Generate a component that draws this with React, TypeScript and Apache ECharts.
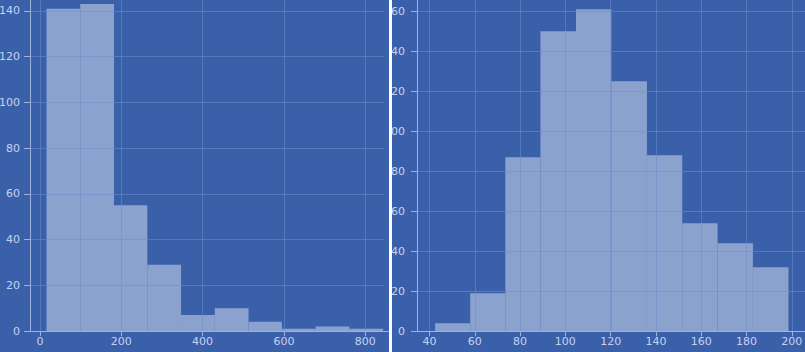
import React, { useEffect, useRef } from "react";
import * as echarts from "echarts";

// Left histogram: bin edges and counts
const leftEdges = [16, 99, 182, 264, 347, 430, 513, 595, 678, 761, 844];
const leftCounts = [141, 143, 55, 29, 7, 10, 4, 1, 2, 1];

// Right histogram: bin edges and counts
const rightEdges = [42.5, 58, 73.5, 89, 104.7, 120.3, 136, 151.6, 167.2, 182.8, 198.5];
const rightCounts = [4, 19, 87, 150, 161, 125, 88, 54, 44, 32];

const BG = "#3a60aa";
const BAR = "#8ca2ce";
const GRIDLINE = "rgba(108,140,206,0.55)";
const AXIS = "#9db3de";
const LABEL = "#c6d2ee";

function toRows(edges: number[], counts: number[]) {
  return counts.map((c, i) => [edges[i], edges[i + 1], c]);
}

const renderItem = (params: any, api: any) => {
  const x0 = api.value(0);
  const x1 = api.value(1);
  const h = api.value(2);
  const p0 = api.coord([x0, h]);
  const p1 = api.coord([x1, 0]);
  return {
    type: "rect",
    shape: { x: p0[0], y: p0[1], width: p1[0] - p0[0], height: p1[1] - p0[1] },
    style: { fill: BAR },
  };
};

function label(margin: number) {
  return {
    color: LABEL,
    fontFamily: "DejaVu Sans",
    fontSize: 11,
    margin,
    showMinLabel: false,
    showMaxLabel: false,
  };
}

function valueAxis(extra: any) {
  return {
    type: "value",
    z: 10,
    axisLine: { show: true, onZero: false, lineStyle: { color: AXIS, width: 1 } },
    axisTick: { show: true, length: 5, lineStyle: { color: AXIS } },
    splitLine: { show: true, lineStyle: { color: GRIDLINE, width: 1 } },
    ...extra,
  };
}

export default function App() {
  const ref = useRef<HTMLDivElement>(null);
  useEffect(() => {
    if (!ref.current) return;
    const chart = echarts.init(ref.current, undefined, { renderer: "svg" });
    chart.setOption({
      animation: false,
      backgroundColor: BG,
      grid: [
        { left: 30, right: 416.3, top: -34.8, bottom: 21, containLabel: false, outerBoundsMode: "none" },
        { left: 417, right: 0, top: -28.7, bottom: 20.7, containLabel: false, outerBoundsMode: "none" },
      ],
      xAxis: [
        valueAxis({
          gridIndex: 0,
          min: -24.6,
          max: 857.8,
          splitNumber: 5,
          axisLabel: label(5),
        }),
        valueAxis({
          gridIndex: 1,
          min: 34.5,
          max: 205.8,
          splitNumber: 8,
          axisLabel: label(5),
        }),
      ],
      yAxis: [
        valueAxis({
          gridIndex: 0,
          min: 0,
          max: 160,
          interval: 20,
          axisTick: { show: true, length: 6, lineStyle: { color: AXIS } },
          axisLabel: { ...label(10), showMinLabel: true },
        }),
        valueAxis({
          gridIndex: 1,
          min: 0,
          max: 180,
          interval: 20,
          axisTick: { show: true, length: 6, lineStyle: { color: AXIS } },
          axisLabel: { ...label(12), showMinLabel: true },
        }),
      ],
      series: [
        {
          type: "custom",
          xAxisIndex: 0,
          yAxisIndex: 0,
          renderItem,
          encode: { x: [0, 1], y: 2 },
          data: toRows(leftEdges, leftCounts),
          z: 2,
        },
        {
          type: "custom",
          xAxisIndex: 1,
          yAxisIndex: 1,
          renderItem,
          encode: { x: [0, 1], y: 2 },
          data: toRows(rightEdges, rightCounts),
          z: 2,
        },
      ],
      graphic: [
        {
          type: "rect",
          z: 100,
          shape: { x: 384, y: 0, width: 5, height: 331 },
          style: { fill: BG },
        },
        {
          type: "rect",
          z: 100,
          shape: { x: 389, y: 0, width: 3, height: 352 },
          style: { fill: "#ffffff" },
        },
      ],
    });
    return () => chart.dispose();
  }, []);
  return (
    <div
      ref={ref}
      style={{ position: "fixed", left: 0, top: 0, width: 805, height: 352 }}
    />
  );
}
